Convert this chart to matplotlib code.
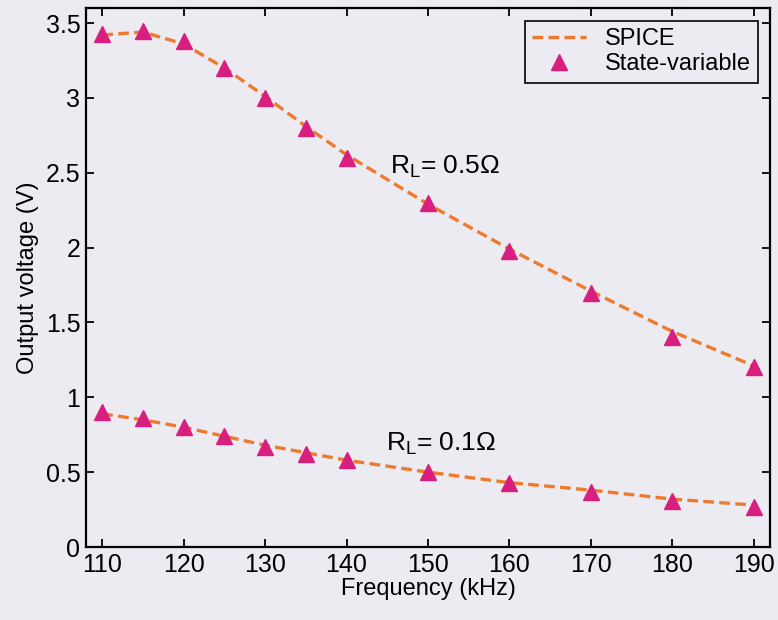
import numpy as np
import matplotlib
matplotlib.use('Agg')
import matplotlib.pyplot as plt

plt.rcParams['font.family'] = ['Liberation Sans', 'DejaVu Sans']
plt.rcParams['mathtext.fontset'] = 'custom'
plt.rcParams['mathtext.rm'] = 'Liberation Sans'
plt.rcParams['mathtext.it'] = 'Liberation Sans'

# frequency points (kHz)
freq = [110, 115, 120, 125, 130, 135, 140, 150, 160, 170, 180, 190]

# SPICE simulation curves
spice_05 = [3.42, 3.44, 3.36, 3.20, 3.01, 2.81, 2.62, 2.29, 1.99, 1.71, 1.44, 1.21]
spice_01 = [0.89, 0.85, 0.80, 0.74, 0.68, 0.63, 0.58, 0.50, 0.43, 0.38, 0.32, 0.28]

# state-variable model points
sv_05 = [3.43, 3.45, 3.38, 3.20, 3.00, 2.80, 2.60, 2.30, 1.98, 1.70, 1.40, 1.20]
sv_01 = [0.90, 0.86, 0.80, 0.74, 0.67, 0.62, 0.58, 0.50, 0.43, 0.37, 0.31, 0.27]

bg = '#ecebf1'
orange = '#ef7a2e'
magenta = '#d81f80'

fig = plt.figure(figsize=(7.78, 6.2), dpi=100, facecolor=bg)
ax = fig.add_axes([0.1105, 0.1177, 0.8792, 0.8693], facecolor=bg)

ax.plot(freq, spice_05, color=orange, lw=2.4, dashes=(3.2, 1.6), label='SPICE', zorder=2)
ax.plot(freq, spice_01, color=orange, lw=2.4, dashes=(3.2, 1.6), zorder=2)
ax.plot(freq, sv_05, ls='none', marker='^', ms=12, color=magenta, label='State-variable', zorder=3)
ax.plot(freq, sv_01, ls='none', marker='^', ms=12, color=magenta, zorder=3)

ax.set_xlim(108, 192)
ax.set_ylim(0, 3.6)
ax.set_xticks([110, 120, 130, 140, 150, 160, 170, 180, 190])
ax.set_yticks([0, 0.5, 1, 1.5, 2, 2.5, 3, 3.5])
ax.set_yticklabels(['0', '0.5', '1', '1.5', '2', '2.5', '3', '3.5'])
ax.tick_params(direction='in', length=6, width=1.3, labelsize=18, top=True, right=True, pad=4)
for s in ax.spines.values():
    s.set_linewidth(1.6)

ax.set_xlabel('Frequency (kHz)', fontsize=17, labelpad=1)
ax.set_ylabel('Output voltage (V)', fontsize=17, labelpad=5)

ax.text(145.3, 2.49, r'$\mathregular{R_L}$= 0.5Ω', fontsize=19)
ax.text(144.8, 0.64, r'$\mathregular{R_L}$= 0.1Ω', fontsize=19)

leg = ax.legend(loc='upper right', bbox_to_anchor=(0.99, 0.985), fontsize=17,
                frameon=True, fancybox=False, borderpad=0.3, handlelength=2.3,
                labelspacing=0.15, handletextpad=0.8, borderaxespad=0.2)
leg.get_frame().set_edgecolor('black')
leg.get_frame().set_linewidth(1.2)
leg.get_frame().set_facecolor(bg)
leg.get_frame().set_alpha(1)

fig.savefig('out.png', dpi=100, facecolor=bg)
